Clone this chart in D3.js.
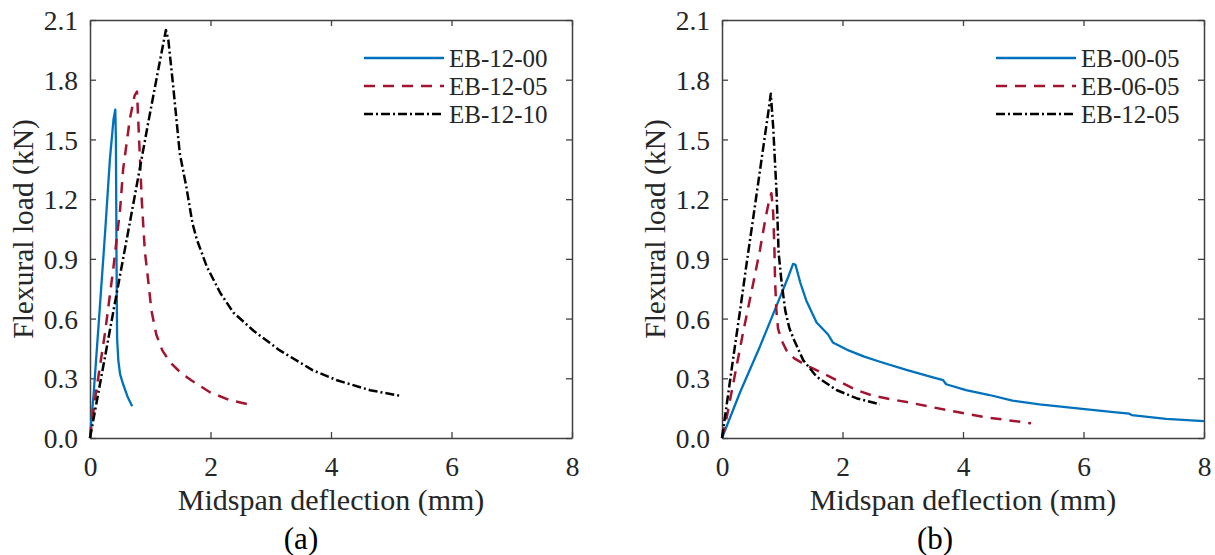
<!DOCTYPE html>
<html><head><meta charset="utf-8">
<script src="https://cdn.jsdelivr.net/npm/d3@7"></script>
<style>body{margin:0;background:#fff}svg{display:block}</style>
</head><body><svg id="c" width="1215" height="555"></svg>
<script>
// ---- data ----
const xTicks = [0, 2, 4, 6, 8];
const yTicks = [0, 0.3, 0.6, 0.9, 1.2, 1.5, 1.8, 2.1];
const xLabel = "Midspan deflection (mm)";
const yLabel = "Flexural load (kN)";
const panelLabels = ["(a)", "(b)"];

// Panel (a)
const a_names = ["EB-12-00", "EB-12-05", "EB-12-10"];
const a1_x = [0,0.02,0.06,0.15,0.25,0.33,0.39,0.42,0.43,0.435,0.44,0.445,0.45,0.47,0.50,0.55,0.62,0.70];
const a1_y = [0,0.08,0.22,0.60,1.03,1.40,1.60,1.65,1.50,1.20,0.90,0.69,0.50,0.39,0.32,0.27,0.21,0.16];
const a2_x = [0,0.08,0.25,0.39,0.50,0.55,0.66,0.74,0.78,0.80,0.83,0.86,0.91,0.97,1.02,1.10,1.20,1.33,1.50,1.68,1.99,2.32,2.62];
const a2_y = [0,0.19,0.53,0.86,1.15,1.35,1.60,1.72,1.74,1.60,1.40,1.19,0.94,0.78,0.64,0.52,0.44,0.38,0.33,0.29,0.23,0.19,0.17];
const a3_x = [0,0.055,0.22,0.39,0.50,0.66,0.80,0.97,1.12,1.26,1.30,1.38,1.49,1.60,1.70,1.77,1.94,2.16,2.38,2.71,3.15,3.70,4.10,4.65,5.18];
const a3_y = [0,0.09,0.36,0.64,0.82,1.08,1.31,1.59,1.83,2.05,2.00,1.77,1.43,1.26,1.08,1.00,0.86,0.73,0.63,0.54,0.44,0.34,0.29,0.24,0.21];

// Panel (b)
const b_names = ["EB-00-05", "EB-06-05", "EB-12-05"];
const b1_x = [0,0.3,0.63,0.94,1.10,1.18,1.22,1.30,1.40,1.57,1.76,1.84,2.10,2.35,2.62,3.06,3.50,3.67,3.72,4.05,4.44,4.82,5.27,5.98,6.50,6.76,6.80,7.37,8.0];
const b1_y = [0,0.23,0.46,0.69,0.81,0.875,0.87,0.78,0.69,0.58,0.52,0.48,0.44,0.41,0.383,0.342,0.305,0.291,0.27,0.241,0.216,0.188,0.169,0.146,0.13,0.122,0.115,0.096,0.085];
const b2_x = [0,0.08,0.19,0.35,0.52,0.63,0.72,0.78,0.82,0.85,0.87,0.88,0.90,0.93,0.99,1.07,1.20,1.34,1.62,1.95,2.23,2.50,2.78,3.11,3.72,4.38,5.13];
const b2_y = [0,0.107,0.28,0.53,0.78,0.945,1.10,1.19,1.23,1.13,0.95,0.80,0.65,0.55,0.49,0.44,0.40,0.375,0.333,0.283,0.241,0.213,0.196,0.178,0.141,0.104,0.074];
const b3_x = [0,0.05,0.19,0.30,0.41,0.52,0.685,0.77,0.81,0.85,0.906,0.94,0.99,1.05,1.12,1.20,1.35,1.57,1.90,2.23,2.62];
const b3_y = [0,0.107,0.41,0.64,0.88,1.11,1.46,1.64,1.73,1.56,1.23,0.93,0.78,0.64,0.55,0.49,0.39,0.308,0.241,0.2,0.169];

// ---- styles ----
const styles = [
  {color:"#0072BD", dash:null, width:2.3},
  {color:"#A2142F", dash:"11,8", width:2.5},
  {color:"#000000", dash:"9,3,2,3", width:2.5}
];
const FONT = "'Liberation Serif','Times New Roman',serif";
const AXC = "#404040", TXC = "#262626";

const svg = d3.select("#c");

function panel(x0, names, series, label, labelX) {
  const W = 482, H = 418, top = 20;
  const x = d3.scaleLinear().domain([0, 8]).range([x0, x0 + W]);
  const y = d3.scaleLinear().domain([0, 2.1]).range([top + H, top]);
  const g = svg.append("g");

  const ax = [
    g.append("g").attr("transform", `translate(0,${top+H})`).call(d3.axisBottom(x).tickValues(xTicks).tickSizeInner(-6).tickSizeOuter(0).tickPadding(18).tickFormat(d3.format("d"))),
    g.append("g").attr("transform", `translate(0,${top})`).call(d3.axisTop(x).tickValues(xTicks).tickSizeInner(-6).tickSizeOuter(0).tickFormat("")),
    g.append("g").attr("transform", `translate(${x0},0)`).call(d3.axisLeft(y).tickValues(yTicks).tickSizeInner(-6).tickSizeOuter(0).tickPadding(12).tickFormat(d3.format(".1f"))),
    g.append("g").attr("transform", `translate(${x0+W},0)`).call(d3.axisRight(y).tickValues(yTicks).tickSizeInner(-6).tickSizeOuter(0).tickFormat(""))
  ];
  ax.forEach(a => {
    a.select(".domain").attr("stroke", AXC).attr("stroke-width", 1.5);
    a.selectAll(".tick line").attr("stroke", AXC).attr("stroke-width", 1.3);
    a.selectAll("text").attr("font-family", FONT).attr("font-size", 27.5).attr("fill", TXC);
  });
  ax[0].selectAll("text").attr("dy", "0.71em");
  ax[2].selectAll("text").attr("dy", "0.35em");

  const line = d3.line().x(d => x(d[0])).y(d => y(d[1]));
  series.forEach((s, i) => {
    const pts = s[0].map((v, k) => [v, s[1][k]]);
    const p = g.append("path").datum(pts).attr("d", line)
      .attr("fill", "none").attr("stroke", styles[i].color)
      .attr("stroke-width", styles[i].width).attr("stroke-linejoin", "round");
    if (styles[i].dash) p.attr("stroke-dasharray", styles[i].dash);
  });

  const lx = x0 + 274, ly = [58, 86, 114];
  names.forEach((n, i) => {
    const l = g.append("line").attr("x1", lx).attr("x2", lx + 80).attr("y1", ly[i]).attr("y2", ly[i])
      .attr("stroke", styles[i].color).attr("stroke-width", styles[i].width);
    if (styles[i].dash) l.attr("stroke-dasharray", styles[i].dash);
    g.append("text").attr("x", lx + 85).attr("y", ly[i]).attr("dy", "0.35em")
      .attr("font-family", FONT).attr("font-size", 25).attr("fill", TXC).text(n);
  });

  g.append("text").attr("x", x0 + W/2).attr("y", 510).attr("text-anchor", "middle")
    .attr("font-family", FONT).attr("font-size", 30).attr("fill", TXC).text(xLabel);
  g.append("text").attr("transform", `translate(${x0 - 57},${top + H/2}) rotate(-90)`)
    .attr("text-anchor", "middle").attr("font-family", FONT).attr("font-size", 29.5).attr("fill", TXC).text(yLabel);
  g.append("text").attr("x", labelX).attr("y", 549).attr("text-anchor", "middle")
    .attr("font-family", FONT).attr("font-size", 31).attr("fill", "#000").text(label);
}

panel(90, a_names, [[a1_x, a1_y], [a2_x, a2_y], [a3_x, a3_y]], panelLabels[0], 301);
panel(722, b_names, [[b1_x, b1_y], [b2_x, b2_y], [b3_x, b3_y]], panelLabels[1], 935);
</script></body></html>
